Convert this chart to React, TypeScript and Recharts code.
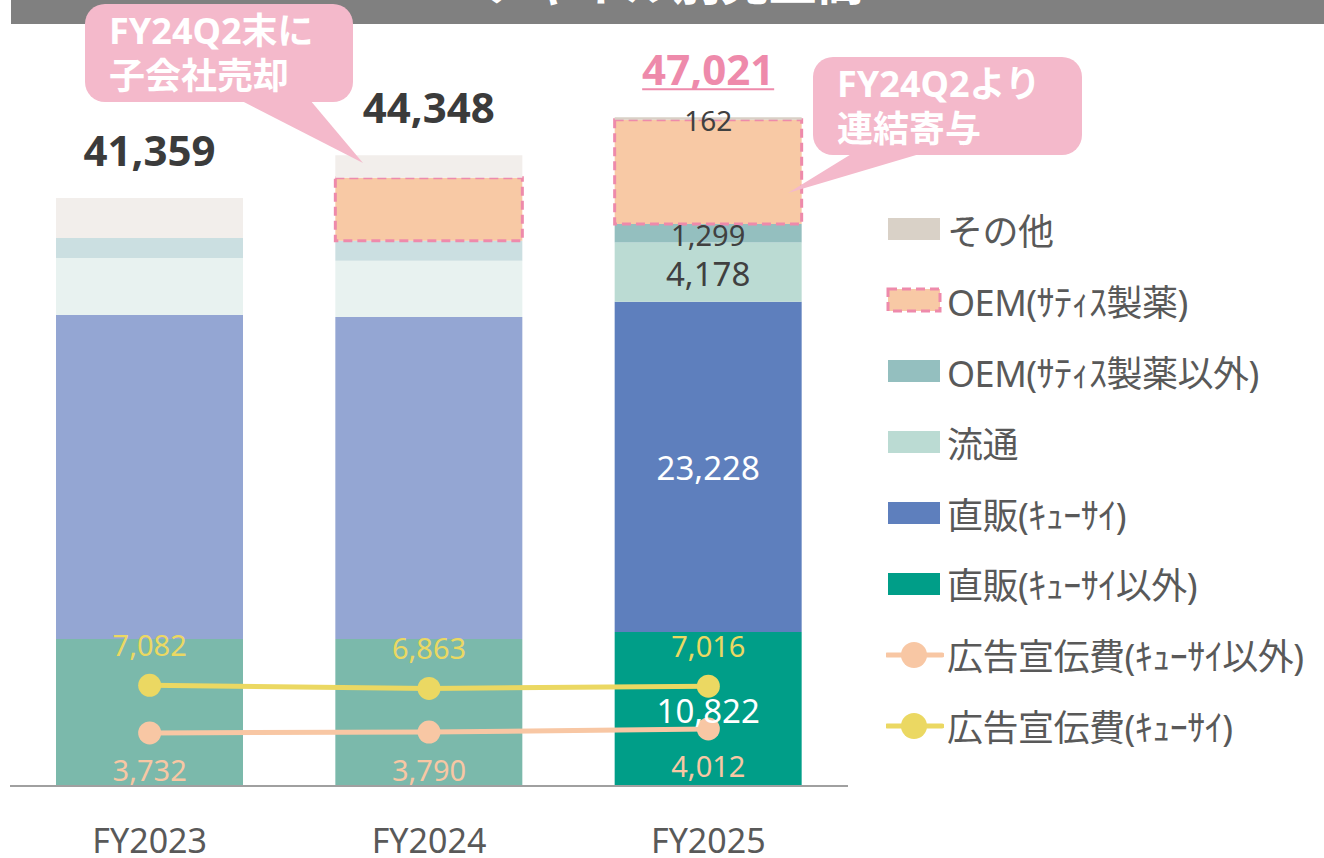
import { Bar, Cell, ComposedChart, LabelList, Line, XAxis, YAxis } from 'recharts'

// 売上高 (百万円) / 広告宣伝費
const categories = ['FY2023', 'FY2024', 'FY2025']
const totals = [41359, 44348, 47021]
const directOther = [10338, 10338, 10822]
const directQ = [22784, 22644, 23228]
const distribution = [4009, 3959, 4178]
const oemOther = [1406, 1406, 1299]
const oemSatis = [0, 4431, 7333]
const otherSales = [2822, 1570, 162]
const adQ = [7082, 6863, 7016]
const adOther = [3732, 3790, 4012]

const FONT = "'Noto Sans', 'Noto Sans CJK JP', sans-serif"
const PINK = '#ee8aab'

const data = categories.map((c, i) => ({
  name: c,
  directOther: directOther[i],
  directQ: directQ[i],
  distribution: distribution[i],
  oemOther: oemOther[i],
  oemSatis: oemSatis[i],
  other: otherSales[i],
  adQ: adQ[i],
  adOther: adOther[i],
}))

type BarSeries = {
  key: string
  name: string
  colors: string[]
  legend: string
  labelColor: string
  labelSize: number
  dashed?: boolean
}

// bottom -> top
const barSeries: BarSeries[] = [
  { key: 'directOther', name: '直販(ｷｭｰｻｲ以外)', colors: ['#7bb9ab', '#7bb9ab', '#009e88'], legend: '#009e88', labelColor: '#ffffff', labelSize: 33 },
  { key: 'directQ', name: '直販(ｷｭｰｻｲ)', colors: ['#94a6d3', '#94a6d3', '#5e7fbd'], legend: '#5e7fbd', labelColor: '#ffffff', labelSize: 33 },
  { key: 'distribution', name: '流通', colors: ['#e8f2f0', '#e8f2f0', '#bbdbd3'], legend: '#bbdbd3', labelColor: '#404040', labelSize: 33 },
  { key: 'oemOther', name: 'OEM(ｻﾃｨｽ製薬以外)', colors: ['#cbdfe1', '#cbdfe1', '#94bfbf'], legend: '#94bfbf', labelColor: '#404040', labelSize: 29 },
  { key: 'oemSatis', name: 'OEM(ｻﾃｨｽ製薬)', colors: ['#f8c9a5', '#f8c9a5', '#f8c9a5'], legend: '#f8c9a5', labelColor: '#404040', labelSize: 29, dashed: true },
  { key: 'other', name: 'その他', colors: ['#f2eeeb', '#f2eeeb', '#d9d0c6'], legend: '#d9d1c7', labelColor: '#404040', labelSize: 28 },
]

const lineSeries = [
  { key: 'adOther', name: '広告宣伝費(ｷｭｰｻｲ以外)', color: '#f8c7a4', labelDy: 37 },
  { key: 'adQ', name: '広告宣伝費(ｷｭｰｻｲ)', color: '#ebd862', labelDy: -41 },
]

const fmt = (v: number) => v.toLocaleString('en-US')

function segmentLabel(s: BarSeries) {
  return (props: any) => {
    const { x, y, width, height, value, index } = props
    if (index !== 2) return null
    return (
      <text
        x={x + width / 2}
        y={y + height / 2 + (s.key === 'other' ? 2 : 1)}
        textAnchor="middle"
        dominantBaseline="central"
        fontSize={s.labelSize}
        fill={s.labelColor}
        fontFamily={FONT}
      >
        {fmt(Number(value))}
      </text>
    )
  }
}

function totalLabel(props: any) {
  const { x, y, width, index } = props
  const cx = x + width / 2
  const last = index === totals.length - 1
  const text = fmt(totals[index])
  return (
    <g>
      <text
        x={cx}
        y={y - 32}
        textAnchor="middle"
        fontSize={42}
        fontWeight={700}
        fill={last ? PINK : '#3b3b3b'}
        fontFamily={FONT}
      >
        {text}
      </text>
      {last && <line x1={cx - 66} x2={cx + 66} y1={y - 28} y2={y - 28} stroke={PINK} strokeWidth={2} />}
    </g>
  )
}

function lineLabel(color: string, dy: number) {
  return (props: any) => {
    const { x, y, value } = props
    return (
      <text
        x={x}
        y={y + dy}
        textAnchor="middle"
        dominantBaseline="central"
        fontSize={29}
        fill={color}
        fontFamily={FONT}
      >
        {fmt(Number(value))}
      </text>
    )
  }
}

function LegendBlock() {
  const items = [
    ...[...barSeries].reverse().map((s) => ({ type: 'bar' as const, name: s.name, color: s.legend, dashed: !!s.dashed })),
    ...lineSeries.map((s) => ({ type: 'line' as const, name: s.name, color: s.color, dashed: false })),
  ]
  return (
    <div style={{ position: 'absolute', left: 886, top: 194, fontFamily: FONT }}>
      {items.map((it) => (
        <div key={it.name} style={{ display: 'flex', alignItems: 'center', height: 70.9 }}>
          <svg width={58} height={30} style={{ marginRight: 3, flexShrink: 0 }}>
            {it.type === 'bar' ? (
              <rect
                x={2}
                y={4}
                width={52}
                height={22}
                fill={it.color}
                stroke={it.dashed ? PINK : 'none'}
                strokeWidth={it.dashed ? 3 : 0}
                strokeDasharray={it.dashed ? '9 5' : undefined}
              />
            ) : (
              <g>
                <line x1={1} x2={56} y1={15} y2={15} stroke={it.color} strokeWidth={5} strokeLinecap="round" />
                <circle cx={28} cy={15} r={13} fill={it.color} />
              </g>
            )}
          </svg>
          <span style={{ fontSize: 36, color: '#595959', whiteSpace: 'nowrap', letterSpacing: -0.5 }}>{it.name}</span>
        </div>
      ))}
    </div>
  )
}

function Overlay() {
  const callFill = '#f4b9cb'
  return (
    <svg width={1324} height={858} style={{ position: 'absolute', left: 0, top: 0, pointerEvents: 'none' }}>
      <defs>
        <clipPath id="hdr">
          <rect x={11} y={0} width={1313} height={24} />
        </clipPath>
      </defs>
      <rect x={11} y={0} width={1313} height={24} fill="#808080" />
      <text
        x={673}
        y={0}
        textAnchor="middle"
        fontSize={48}
        fontWeight={700}
        fill="#ffffff"
        fontFamily={FONT}
        clipPath="url(#hdr)"
      >
        チャネル別売上高
      </text>

      <g fill={callFill}>
        <rect x={85} y={4} width={268} height={98} rx={20} />
        <polygon points="240,100 310,100 363,163" />
        <rect x={813} y={57} width={269} height={98} rx={20} />
        <polygon points="853,153 923,153 788,193" />
      </g>
      <g fill="#ffffff" fontFamily={FONT} fontWeight={700} fontSize={36}>
        <text x={109} y={44}>FY24Q2末に</text>
        <text x={109} y={89}>子会社売却</text>
        <text x={837} y={97}>FY24Q2より</text>
        <text x={837} y={142}>連結寄与</text>
      </g>
    </svg>
  )
}

export default function App() {
  return (
    <div style={{ position: 'absolute', left: 0, top: 0, width: 1324, height: 858, background: '#fff', fontFamily: FONT }}>
      <ComposedChart
        width={1324}
        height={858}
        data={data}
        margin={{ top: 75, right: 476, bottom: 22, left: 10 }}
      >
        <XAxis
          dataKey="name"
          height={50}
          tickLine={false}
          axisLine={{ stroke: '#a0a0a0', strokeWidth: 2 }}
          tickMargin={37}
          tick={{ fontSize: 34, fill: '#595959', fontFamily: FONT }}
        />
        <YAxis hide domain={[0, 50000]} />
        {barSeries.map((s) => (
          <Bar key={s.key} dataKey={s.key} name={s.name} stackId="sales" barSize={187} isAnimationActive={false}>
            {data.map((_, i) => (
              <Cell
                key={i}
                fill={s.colors[i]}
                stroke={s.dashed ? PINK : undefined}
                strokeWidth={s.dashed ? 3 : 0}
                strokeDasharray={s.dashed ? '9 5' : undefined}
              />
            ))}
            <LabelList dataKey={s.key} content={segmentLabel(s)} />
            {s.key === 'other' && <LabelList dataKey="other" content={totalLabel} />}
          </Bar>
        ))}
        {lineSeries.map((s) => (
          <Line
            key={s.key}
            dataKey={s.key}
            name={s.name}
            type="linear"
            stroke={s.color}
            strokeWidth={5}
            dot={{ r: 11.5, fill: s.color, stroke: s.color, strokeWidth: 0 }}
            activeDot={false}
            isAnimationActive={false}
          >
            <LabelList dataKey={s.key} content={lineLabel(s.color, s.labelDy)} />
          </Line>
        ))}
      </ComposedChart>
      <Overlay />
      <LegendBlock />
    </div>
  )
}
